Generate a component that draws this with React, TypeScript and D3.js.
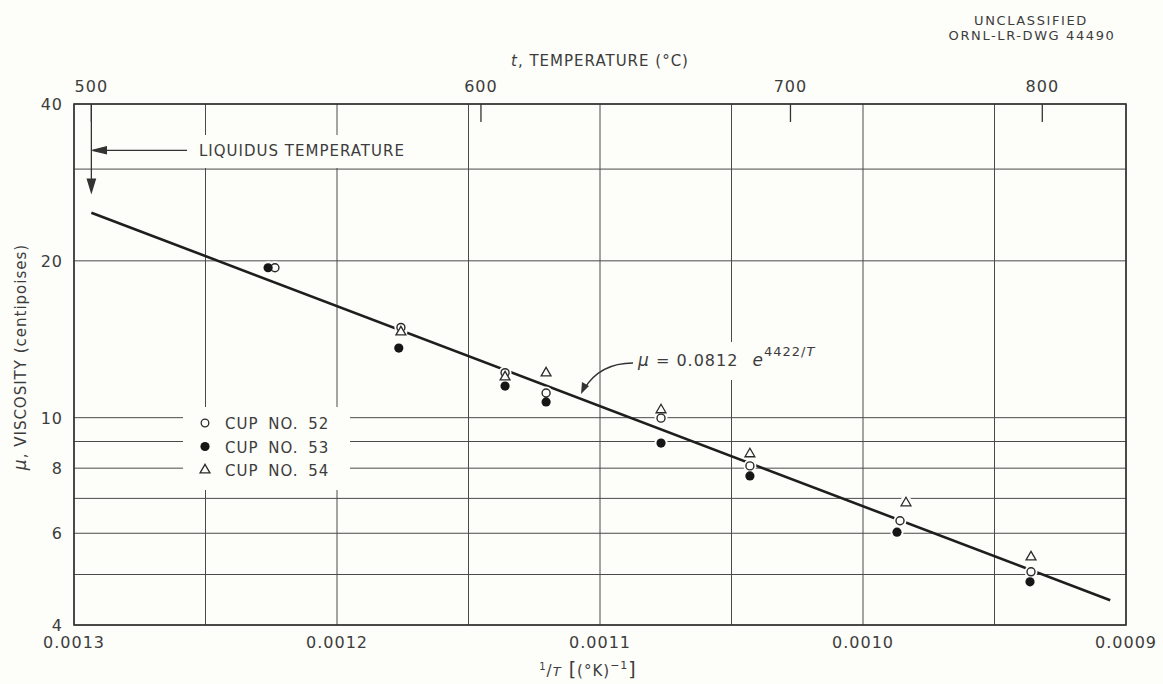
import React, { useEffect } from "react";
import * as d3 from "d3";

// 1/T in (°K)^-1 and viscosity (centipoises)
const cup52InvT = [0.0012236, 0.0011757, 0.0011361, 0.0011205, 0.0010768, 0.001043, 0.00098593, 0.00093612];
const cup52Mu = [19.4, 14.9, 12.2, 11.15, 9.98, 8.08, 6.34, 5.06];
const cup53InvT = [0.0012262, 0.0011765, 0.0011361, 0.0011205, 0.0010768, 0.001043, 0.00098707, 0.0009365];
const cup53Mu = [19.4, 13.6, 11.5, 10.72, 8.94, 7.73, 6.03, 4.84];
const cup54InvT = [0.0011757, 0.0011361, 0.0011205, 0.0010768, 0.001043, 0.00098365, 0.00093612];
const cup54Mu = [14.6, 11.97, 12.18, 10.35, 8.52, 6.86, 5.4];

// fitted curve mu = A e^(B/T)
const fitA = 0.0812;
const fitB = 4422;
const fitInvT = [1 / 773.16, 0.000906];

const xTicks = [0.0013, 0.0012, 0.0011, 0.001, 0.0009];
const xTickLabels = ["0.0013", "0.0012", "0.0011", "0.0010", "0.0009"];
const xGrid = [0.0013, 0.00125, 0.0012, 0.00115, 0.0011, 0.00105, 0.001, 0.00095, 0.0009];
const yTicks = [4, 6, 8, 10, 20, 40];
const yGrid = [4, 5, 6, 7, 8, 9, 10, 20, 30, 40];
const tempTicks = [500, 600, 700, 800];
const liquidusT = 500;

const legendItems = ["CUP NO. 52", "CUP NO. 53", "CUP NO. 54"];

const BG = "#fdfdf9";
const INK = "#2a2a2a";
const TXT = "#3c3c3c";
const FONT = "'DejaVu Sans', sans-serif";

export default function App() {
  useEffect(() => {
    document.body.style.margin = "0";
    document.body.style.background = BG;
  }, []);

  const x = d3.scaleLinear().domain([0.0013, 0.0009]).range([74, 1126]);
  const y = d3.scaleLog().domain([4, 40]).range([625, 104]);
  const tempX = (t: number) => x(1 / (t + 273.16));
  const [x0, x1] = x.range();
  const [yb, yt] = y.range();

  const fitLine = d3
    .line<number>()
    .x((d) => x(d))
    .y((d) => y(fitA * Math.exp(fitB * d)));

  const tri = d3.symbol(d3.symbolTriangle, 42)();

  const pts52 = cup52InvT.map((v, i) => [x(v), y(cup52Mu[i])]);
  const pts53 = cup53InvT.map((v, i) => [x(v), y(cup53Mu[i])]);
  const pts54 = cup54InvT.map((v, i) => [x(v), y(cup54Mu[i])]);
  const all = [...pts52, ...pts53, ...pts54];

  const lx = tempX(liquidusT);
  const textStyle = { fontFamily: FONT, fill: TXT, letterSpacing: 1 };

  return (
    <svg width={1163} height={684} style={{ display: "block", background: BG }}>
      {/* grid */}
      <g stroke="#4a4a4a" strokeWidth={1}>
        {xGrid.map((v) => (
          <line key={"gx" + v} x1={x(v)} x2={x(v)} y1={yt} y2={yb} />
        ))}
        {yGrid.map((v) => (
          <line key={"gy" + v} x1={x0} x2={x1} y1={y(v)} y2={y(v)} />
        ))}
      </g>
      {/* label clearings */}
      <rect x={190} y={135} width={236} height={33} fill={BG} />
      <rect x={183} y={407} width={167} height={83} fill={BG} />
      <rect x={625} y={342} width={215} height={38} fill={BG} />
      {/* frame */}
      <rect x={x0} y={yt} width={x1 - x0} height={yb - yt} fill="none" stroke="#333" strokeWidth={1.6} />

      {/* top temperature axis */}
      <g stroke="#333" strokeWidth={1.3}>
        {tempTicks.map((t) => (
          <line key={"tt" + t} x1={tempX(t)} x2={tempX(t)} y1={yt} y2={yt + 18} />
        ))}
      </g>
      {tempTicks.map((t) => (
        <text key={"tl" + t} x={tempX(t)} y={92} textAnchor="middle" fontSize={16} {...textStyle}>
          {t}
        </text>
      ))}
      <text x={600} y={66} textAnchor="middle" fontSize={15} {...textStyle}>
        <tspan fontStyle="italic">t</tspan>, TEMPERATURE (°C)
      </text>

      {/* bottom axis */}
      {xTicks.map((v, i) => (
        <text key={"xl" + v} x={x(v)} y={648} textAnchor="middle" fontSize={16} {...textStyle}>
          {xTickLabels[i]}
        </text>
      ))}
      <text x={588} y={676} textAnchor="middle" fontSize={15} {...textStyle}>
        <tspan fontSize={10} dy={-6}>1</tspan>
        <tspan dy={6}>/</tspan>
        <tspan fontStyle="italic" fontSize={13}>T</tspan>
        <tspan fontSize={19}> [</tspan>(°K)
        <tspan fontSize={11} dy={-7}>−1</tspan>
        <tspan fontSize={19} dy={7}>]</tspan>
      </text>

      {/* left axis */}
      {yTicks.map((v) => (
        <text key={"yl" + v} x={63} y={y(v) + 6} textAnchor="end" fontSize={16} {...textStyle}>
          {v}
        </text>
      ))}
      <text transform="translate(26,357) rotate(-90)" textAnchor="middle" fontSize={15} {...textStyle}>
        <tspan fontStyle="italic" fontSize={17}>μ</tspan>, VISCOSITY (centipoises)
      </text>

      {/* fitted line */}
      <path d={fitLine(fitInvT) || ""} fill="none" stroke="#1e1e1e" strokeWidth={2.6} />
      {all.map(([px, py], i) => (
        <circle key={"h" + i} cx={px} cy={py} r={6.5} fill={BG} />
      ))}

      {/* markers */}
      {pts52.map(([px, py], i) => (
        <circle key={"a" + i} cx={px} cy={py} r={4} fill={BG} stroke={INK} strokeWidth={1.4} />
      ))}
      {pts53.map(([px, py], i) => (
        <circle key={"b" + i} cx={px} cy={py} r={4.6} fill="#161616" />
      ))}
      {pts54.map(([px, py], i) => (
        <path key={"c" + i} d={tri || ""} transform={`translate(${px},${py})`} fill={BG} stroke={INK} strokeWidth={1.3} />
      ))}

      {/* liquidus annotation */}
      <g stroke="#333" strokeWidth={1.3} fill="#333">
        <line x1={lx} x2={lx} y1={yt} y2={y(27.2)} />
        <path d={`M${lx},${y(27.2) + 1} l-4,-13 l8,0 z`} />
        <line x1={lx + 2} x2={187} y1={y(32.6)} y2={y(32.6)} />
        <path d={`M${lx + 1},${y(32.6)} l14,-3.5 l0,7 z`} />
      </g>
      <text x={199} y={y(32.6) + 6} fontSize={15} {...textStyle}>
        LIQUIDUS TEMPERATURE
      </text>

      {/* formula annotation */}
      <path d="M633,363 Q600,363 584,389" fill="none" stroke="#333" strokeWidth={1.3} />
      <path d="M581,394 l1,-12 l7,4 z" fill="#333" />
      <text x={638} y={366} fontSize={16} {...textStyle}>
        <tspan fontStyle="italic" fontSize={17}>μ</tspan> = 0.0812{"  "}
        <tspan fontStyle="italic" fontSize={17} dx={8}>e</tspan>
        <tspan fontSize={13} dy={-10}>4422/</tspan>
        <tspan fontSize={13} fontStyle="italic">T</tspan>
      </text>

      {/* legend */}
      {legendItems.map((lab, i) => {
        const ly = 423 + i * 23.5;
        return (
          <g key={lab}>
            {i === 0 && <circle cx={205} cy={ly} r={3.8} fill={BG} stroke={INK} strokeWidth={1.3} />}
            {i === 1 && <circle cx={205} cy={ly} r={4.6} fill="#161616" />}
            {i === 2 && <path d={tri || ""} transform={`translate(205,${ly})`} fill={BG} stroke={INK} strokeWidth={1.3} />}
            <text x={225} y={ly + 6} fontSize={15} wordSpacing={4} {...textStyle}>
              {lab}
            </text>
          </g>
        );
      })}

      {/* drawing id */}
      <text x={1031} y={25} textAnchor="middle" fontSize={13} {...textStyle} letterSpacing={1.6}>
        UNCLASSIFIED
      </text>
      <text x={1032} y={40} textAnchor="middle" fontSize={13} {...textStyle} letterSpacing={1.6}>
        ORNL-LR-DWG 44490
      </text>
    </svg>
  );
}
